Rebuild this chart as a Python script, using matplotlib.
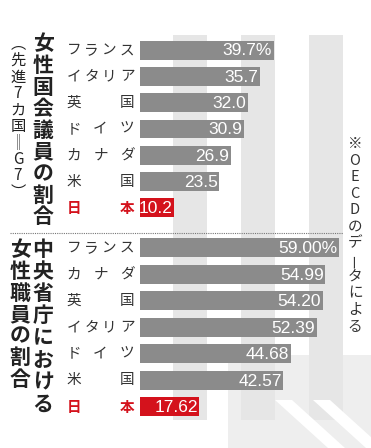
import matplotlib.pyplot as plt
import matplotlib.transforms as mtransforms
from matplotlib.patches import Rectangle, Polygon

# data
top_countries = ["フランス", "イタリア", "英国", "ドイツ", "カナダ", "米国", "日本"]
top_values = [39.7, 35.7, 32.0, 30.9, 26.9, 23.5, 10.2]
top_labels = ["39.7%", "35.7", "32.0", "30.9", "26.9", "23.5", "10.2"]

bottom_countries = ["フランス", "カナダ", "英国", "イタリア", "ドイツ", "米国", "日本"]
bottom_values = [59.00, 54.99, 54.20, 52.39, 44.68, 42.57, 17.62]
bottom_labels = ["59.00%", "54.99", "54.20", "52.39", "44.68", "42.57", "17.62"]

top_title = "女性国会議員の割合"
top_subtitle = "︵先進7カ国‖G7︶"
bottom_title_1 = "中央省庁における"
bottom_title_2 = "女性職員の割合"
note = "※OECDのデータによる"

W, H = 371, 448
GRAY = "#8b8b8b"
RED = "#d4121c"
STRIPE = "#e6e6e6"
JP = ["Noto Sans CJK JP", "DejaVu Sans"]
NUM = ["Liberation Sans", "DejaVu Sans"]

fig = plt.figure(figsize=(W / 100, H / 100), dpi=100)
fig.patch.set_facecolor("white")

# background axes in pixel coordinates (decoration + titles)
bg = fig.add_axes([0, 0, 1, 1])
bg.set_xlim(0, W)
bg.set_ylim(H, 0)
bg.axis("off")

# decorative silhouette
bg.add_patch(Rectangle((228, 355), W - 228, H - 355, color="#eeeeee", lw=0))
for x0 in (173, 241, 309):
    bg.add_patch(Rectangle((x0, 35), 34, 385, color=STRIPE, lw=0))
for x0 in (275, 313):
    bg.add_patch(Polygon([(x0, 400), (x0 + 17, 400), (x0 + 70, 448), (x0 + 53, 448)],
                         closed=True, color="white", lw=0))


def vtext(x, y0, pitch, s, size, color="#222222", weight="normal"):
    for i, ch in enumerate(s):
        rot = 90 if ch == "ー" else 0
        bg.text(x, y0 + i * pitch, ch, ha="center", va="center", rotation=rot,
                fontsize=size, color=color, fontweight=weight, family=JP)


vtext(43, 44, 21.6, top_title, 15, weight="bold")
vtext(18, 44, 16.5, top_subtitle, 11)
vtext(43, 250, 22, bottom_title_1, 15, weight="bold")
vtext(20, 250, 21.5, bottom_title_2, 15, weight="bold")
vtext(355, 144, 16.6, note, 10.5, color="#333333")

# separator
bg.plot([10, 343], [233, 233], ls=(0, (1, 1)), color="#777777", lw=0.8)

px_per_unit = 3.37
x_left = 140


def panel(y_top, y_bot, countries, values, labels):
    ax = fig.add_axes([x_left / W, 1 - y_bot / H, (W - x_left) / W, (y_bot - y_top) / H])
    ax.patch.set_visible(False)
    ax.set_xlim(0, (W - x_left) / px_per_unit)
    n = len(values)
    ax.set_ylim(n - 0.5, -0.5)
    ax.axis("off")
    colors = [GRAY] * (n - 1) + [RED]
    ax.barh(range(n), values, height=0.72, color=colors, lw=0)
    for i, (v, lab) in enumerate(zip(values, labels)):
        ax.text(v - 0.5, i + 0.03, lab, ha="right", va="center", color="white",
                fontsize=12.5, family=NUM)
    # country names, spread between fixed left/right edges
    tr = mtransforms.blended_transform_factory(bg.transData, ax.transData)
    for i, name in enumerate(countries):
        col = RED if i == n - 1 else "#333333"
        k = len(name)
        for j, ch in enumerate(name):
            cx = 74 + (127 - 74) * j / (k - 1)
            ax.text(cx, i, ch, ha="center", va="center", transform=tr,
                    fontsize=10.5, color=col, family=JP,
                    fontweight="bold" if i == n - 1 else "normal")
    return ax


panel(37, 221, top_countries, top_values, top_labels)
panel(234.5, 420, bottom_countries, bottom_values, bottom_labels)

fig.savefig("out.png", dpi=100)
